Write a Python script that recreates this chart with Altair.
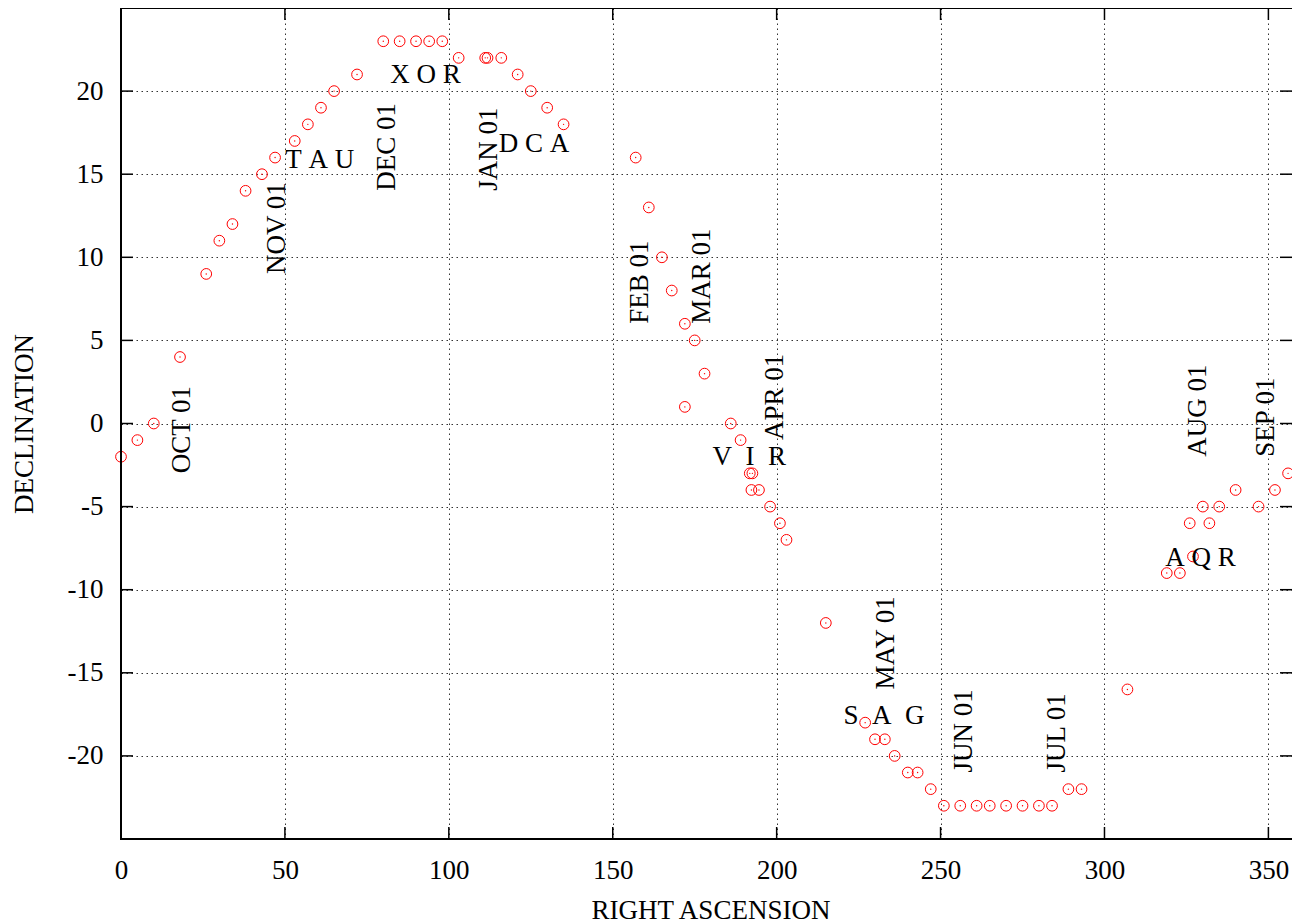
import altair as alt
import pandas as pd

# --- data ---
ra = [0, 5, 10, 18, 26, 30, 34, 38, 43, 47, 53, 57, 61, 65, 72, 80, 85, 90, 94, 98,
      103, 111.1, 111.8, 116, 121, 125, 130, 135, 157, 161, 165, 168, 172, 175, 178, 172,
      186, 189, 191.8, 192.6, 192.3, 194.6, 198, 201, 203, 215, 227, 230, 233, 236,
      240, 243, 247, 251, 256, 261, 265, 270, 275, 280, 284, 289, 293, 307, 319,
      323, 327, 326, 330, 332, 335, 340, 347, 352, 356]
dec = [-2, -1, 0, 4, 9, 11, 12, 14, 15, 16, 17, 18, 19, 20, 21, 23, 23, 23, 23, 23,
       22, 22, 22, 22, 21, 20, 19, 18, 16, 13, 10, 8, 6, 5, 3, 1,
       0, -1, -3, -3, -4, -4, -5, -6, -7, -12, -18, -19, -19, -20,
       -21, -21, -22, -23, -23, -23, -23, -23, -23, -23, -23, -22, -22, -16, -9,
       -9, -8, -6, -5, -6, -5, -4, -5, -4, -3]

months = ["OCT 01", "NOV 01", "DEC 01", "JAN 01", "FEB 01", "MAR 01",
          "APR 01", "MAY 01", "JUN 01", "JUL 01", "AUG 01", "SEP 01"]
month_ra = [18.5, 47.5, 81.1, 112.2, 158.3, 177.1, 199.5, 233.3, 257.2, 285.5, 328.5, 349.3]
month_dec = [-3, 9, 14, 14, 6, 6, -1, -16, -21, -21, -2, -2]

NB = "\u00a0"
constellations = ["T" + NB + "A" + NB + "U",
                  "X" + NB + "O" + NB + "R",
                  "D" + NB + "C" + NB + "A",
                  "V" + NB * 2 + "I" + NB * 2 + "R",
                  "S" + NB * 2 + "A" + NB * 2 + "G",
                  "A" + NB + "Q" + NB + "R"]
const_ra = [50.1, 82.1, 115.2, 180.4, 220.4, 318.5]
const_dec = [15.35, 20.47, 16.35, -2.5, -18.08, -8.56]

x_ticks = [0, 50, 100, 150, 200, 250, 300, 350]
y_ticks = [-20, -15, -10, -5, 0, 5, 10, 15, 20]
x_max = 357.2  # right edge of the frame falls just outside the picture in the reference

# --- layout constants ---
W, H = 1171, 831
FONT = "Liberation Serif"
FS = 27
TICK = 12

pts = pd.DataFrame({"ra": ra, "dec": dec})
mdf = pd.DataFrame({"ra": month_ra, "dec": month_dec, "label": months})
cdf = pd.DataFrame({"ra": const_ra, "dec": const_dec, "label": constellations})
xt = pd.DataFrame({"ra": x_ticks})
yt = pd.DataFrame({"dec": y_ticks})
one = pd.DataFrame({"k": [0]})

xs = alt.Scale(domain=[0, x_max], nice=False, zero=False)
ys = alt.Scale(domain=[-25, 25], nice=False, zero=False)

xaxis = alt.Axis(values=x_ticks, title="RIGHT ASCENSION", labelExpr="'' + datum.value",
                 labelPadding=18, titleX=1179 / 2, titleY=79, titleBaseline="alphabetic")
yaxis = alt.Axis(values=y_ticks, title="DECLINATION", labelExpr="'' + datum.value",
                 labelPadding=18, titleX=-97, titleY=H / 2, titleBaseline="middle")

X = alt.X("ra:Q", scale=xs, axis=xaxis)
Y = alt.Y("dec:Q", scale=ys, axis=yaxis)

circles = alt.Chart(pts).mark_point(shape="circle", filled=False, color="red",
                                    size=115, strokeWidth=1, opacity=1).encode(x=X, y=Y)
dots = alt.Chart(pts).mark_point(shape="circle", filled=True, color="red",
                                 size=2, opacity=1).encode(x=X, y=Y)

month_text = alt.Chart(mdf).mark_text(angle=270, align="left", baseline="middle",
                                      font=FONT, fontSize=FS, color="black").encode(
    x=X, y=Y, text="label:N")
const_text = alt.Chart(cdf).mark_text(align="left", baseline="alphabetic",
                                      font=FONT, fontSize=FS, color="black").encode(
    x=X, y=Y, text="label:N")

tick_style = dict(color="black", strokeWidth=1.5)
bottom_ticks = alt.Chart(xt).mark_rule(**tick_style).encode(
    x=X, y=alt.value(H), y2=alt.value(H - TICK))
top_ticks = alt.Chart(xt).mark_rule(**tick_style).encode(
    x=X, y=alt.value(0), y2=alt.value(TICK))
left_ticks = alt.Chart(yt).mark_rule(**tick_style).encode(
    y=Y, x=alt.value(0), x2=alt.value(TICK))
right_ticks = alt.Chart(yt).mark_rule(**tick_style).encode(
    y=Y, x=alt.value(W), x2=alt.value(W - TICK))

frame_style = dict(color="black", strokeWidth=2)
frame_left = alt.Chart(one).mark_rule(**frame_style).encode(
    x=alt.value(0), y=alt.value(0), y2=alt.value(H))
frame_top = alt.Chart(one).mark_rule(**frame_style).encode(
    x=alt.value(-1), x2=alt.value(W), y=alt.value(0))
frame_bottom = alt.Chart(one).mark_rule(**frame_style).encode(
    x=alt.value(-1), x2=alt.value(W), y=alt.value(H))

chart = alt.layer(
    circles, dots, month_text, const_text,
    bottom_ticks, top_ticks, left_ticks, right_ticks,
    frame_left, frame_top, frame_bottom
).properties(
    width=W, height=H,
    background="white",
    autosize=alt.AutoSizeParams(type="none"),
    padding={"left": 113, "top": 0, "right": 0, "bottom": 85},
).configure_view(
    stroke=None
).configure_axis(
    domain=False, ticks=False, grid=True,
    gridColor="#333333", gridDash=[1.5, 3.5], gridWidth=1, gridOpacity=1,
    labelFont=FONT, labelFontSize=FS, labelColor="black",
    labelFlush=False, labelOverlap=False,
    titleFont=FONT, titleFontSize=FS, titleFontWeight="normal", titleColor="black",
)

chart.save("out.html", embed_options={"renderer": "svg", "actions": False})
